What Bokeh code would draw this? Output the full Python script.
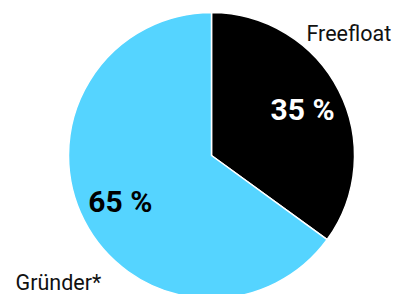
import math
from bokeh.plotting import figure
from bokeh.models import Range1d, ColumnDataSource
from bokeh.core.properties import value
from bokeh.embed import file_html
from bokeh.resources import INLINE

# ---- data ----
categories = ["Freefloat", "Gründer*"]
shares = [35, 65]
colors = ["#000000", "#55D4FF"]
pct_colors = ["#ffffff", "#000000"]

# ---- layout ----
W, H = 393, 294
cx, cy, R = 211, 139, 143
p = figure(width=W, height=H, output_backend="svg", toolbar_location=None,
           x_range=Range1d(0, W), y_range=Range1d(0, H), min_border=0)
p.axis.visible = False
p.grid.visible = False
p.outline_line_color = None

total = sum(shares)
starts, ends, mids = [], [], []
a = math.pi / 2
for s in shares:
    sweep = 2 * math.pi * s / total
    starts.append(a - sweep)
    ends.append(a)
    mids.append(a - sweep / 2)
    a -= sweep

src = ColumnDataSource(dict(start=starts, end=ends, color=colors))
p.wedge(x=cx, y=cy, radius=R, start_angle="start", end_angle="end",
        fill_color="color", line_color="white", line_width=1.5, source=src)

rr = 0.715 * R
psrc = ColumnDataSource(dict(
    x=[cx + rr * math.cos(m) for m in mids],
    y=[cy + rr * math.sin(m) for m in mids],
    t=[f"{s} %" for s in shares], c=pct_colors))
p.text(x="x", y="y", text="t", text_color="c", source=psrc,
       text_font=value("Roboto"), text_font_style="bold", text_font_size="30px",
       text_align="center", text_baseline="middle")

# category labels (positions relative to pie centre)
lab_dx = [95, -196]
lab_dy = [122, -127]
lsrc = ColumnDataSource(dict(x=[cx + d for d in lab_dx], y=[cy + d for d in lab_dy], t=categories))
p.text(x="x", y="y", text="t", source=lsrc, text_color="#111111",
       text_font=value("Roboto"), text_font_size="21.5px",
       text_align="left", text_baseline="alphabetic")

open("out.html", "w").write(file_html(p, INLINE))
